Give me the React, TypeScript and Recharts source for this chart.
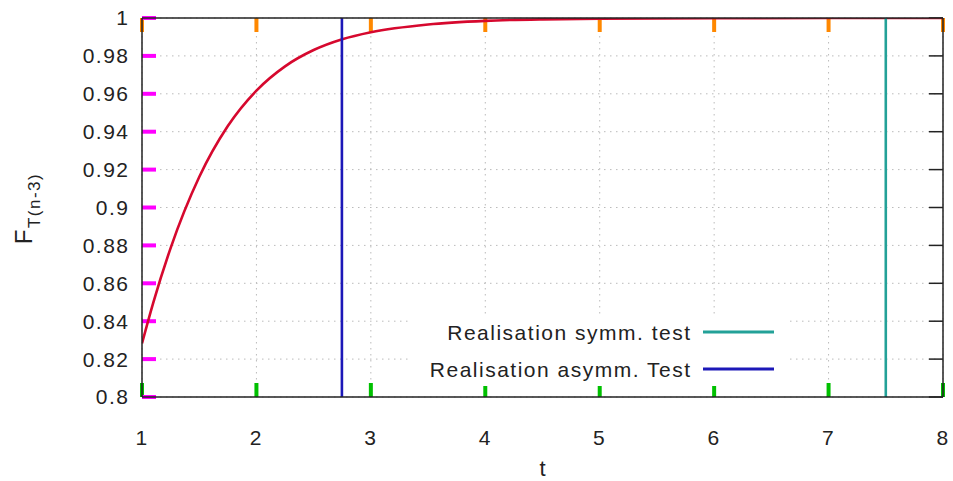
import React from "react";
import { LineChart, Line, XAxis, YAxis, CartesianGrid, Legend, ReferenceLine } from "recharts";

// CDF of the t distribution
const tValues = [1, 1.1, 1.25, 1.5, 1.75, 2, 2.25, 2.5, 2.75, 3, 3.5, 4, 4.5, 5, 6, 7, 8];
const fValues = [
  0.8283, 0.8501, 0.8786, 0.9161, 0.943, 0.9617, 0.9745, 0.9831, 0.9888, 0.9925, 0.9966,
  0.9985, 0.9993, 0.9996, 0.9999, 1.0, 1.0,
];

// realisations of the test statistic (vertical lines)
const symmTestT = 7.5;
const asymmTestT = 2.747;
const fRange = [0.8, 1];

const xTicks = [1, 2, 3, 4, 5, 6, 7, 8];
const yTicks = [0.8, 0.82, 0.84, 0.86, 0.88, 0.9, 0.92, 0.94, 0.96, 0.98, 1];

const legendOrder = ["Realisation symm. test", "Realisation asymm. Test"];

const cdfData = tValues.map((t, i) => ({ t, F: fValues[i] }));
const symmLine = fRange.map((F) => ({ t: symmTestT, F }));
const asymmLine = fRange.map((F) => ({ t: asymmTestT, F }));

const FONT = "'Liberation Sans', Arial, sans-serif";
const INK = "#222";
const RED = "#d6082e";
const BLUE = "#1c18b8";
const TEAL = "#23a198";
const SPACING = 1.5;
const X_GAP = 33;
const Y_GAP = 12.5;

const W = 953;
const H = 481;
const margin = { top: 0, right: 0, bottom: 10, left: 12 };
const Y_AXIS_W = 130;
const RIGHT_AXIS_W = 10;
const X_AXIS_H = 74;
const TOP_AXIS_H = 18;
const plotW = W - margin.left - margin.right - Y_AXIS_W - RIGHT_AXIS_W;
const plotH = H - margin.top - margin.bottom - X_AXIS_H - TOP_AXIS_H;

const TICK_LEN = 14;
const [tMin, tMax] = [xTicks[0], xTicks[xTicks.length - 1]];
const [fMin, fMax] = [yTicks[0], yTicks[yTicks.length - 1]];
const dt = (TICK_LEN * (tMax - tMin)) / plotW;
const dF = (TICK_LEN * (fMax - fMin)) / plotH;

const noTick = () => <g />;

const BottomTick = (props: any) => {
  const { x, y, payload } = props;
  return (
    <text x={x} y={y} dy="0.71em" textAnchor="middle" fontFamily={FONT} fontSize={21}
      letterSpacing={SPACING} fill={INK}>
      {payload.value}
    </text>
  );
};

const LeftTick = (props: any) => {
  const { x, y, payload } = props;
  return (
    <text x={x} y={y} dy="0.355em" textAnchor="end" fontFamily={FONT} fontSize={21}
      letterSpacing={SPACING} fill={INK}>
      {String(Number(Number(payload.value).toFixed(2)))}
    </text>
  );
};

const YLabel = (props: any) => {
  const { viewBox } = props;
  const x = viewBox.x + 20;
  const y = viewBox.y + viewBox.height / 2 + 1;
  return (
    <text x={x} y={y} transform={`rotate(-90, ${x}, ${y})`} textAnchor="middle" fontFamily={FONT}
      fontSize={24} letterSpacing={SPACING} fill={INK}>
      F
      <tspan fontSize={17} dy={8}>
        T(n-3)
      </tspan>
    </text>
  );
};

const XLabel = (props: any) => {
  const { viewBox } = props;
  return (
    <text x={viewBox.x + viewBox.width / 2} y={viewBox.y + 71} textAnchor="middle"
      dominantBaseline="central" fontFamily={FONT} fontSize={22} fill={INK}>
      t
    </text>
  );
};

const KeyBox = (props: any) => {
  const items = (props.payload || [])
    .filter((p: any) => legendOrder.includes(p.value))
    .sort((a: any, b: any) => legendOrder.indexOf(a.value) - legendOrder.indexOf(b.value));
  return (
    <div style={{ background: "#fff", width: 375, height: 70 }}>
      <svg width={375} height={70} style={{ display: "block" }}>
        {items.map((p: any, i: number) => (
          <g key={p.value}>
            <text x={279.5} y={16 + i * 37} textAnchor="end" dominantBaseline="central"
              fontFamily={FONT} fontSize={21} letterSpacing={SPACING} fill={INK}>
              {p.value}
            </text>
            <line x1={291} x2={362} y1={16 + i * 37} y2={16 + i * 37} stroke={p.color} strokeWidth={3} />
          </g>
        ))}
      </svg>
    </div>
  );
};

const frame = { stroke: INK, strokeWidth: 1.5 };

// test colours, to see which side's ticks get drawn
const bottomTicks = xTicks.map((t) => [{ x: t, y: fMin }, { x: t, y: fMin + dF }]);
const topTicks = xTicks.map((t) => [{ x: t, y: fMax }, { x: t, y: fMax - dF }]);
const leftTicks = yTicks.map((F) => [{ x: tMin, y: F }, { x: tMin + dt, y: F }]);
const rightTicks = yTicks.map((F) => [{ x: tMax, y: F }, { x: tMax - dt, y: F }]);

export default function App() {
  return (
    <LineChart width={W} height={H} data={cdfData} margin={margin}
      style={{ position: "absolute", left: 0, top: 0 }}>
      <CartesianGrid xAxisId="x" yAxisId="y" stroke="#bbb" strokeDasharray="1.5 4.5" />
      <XAxis xAxisId="x" dataKey="t" type="number" domain={[tMin, tMax]} ticks={xTicks} allowDataOverflow
        height={X_AXIS_H} tickLine={false} tickSize={0} tickMargin={X_GAP} axisLine={frame}
        tick={BottomTick} label={{ content: XLabel }} />
      <XAxis xAxisId="xt" orientation="top" dataKey="t" type="number" domain={[tMin, tMax]} ticks={xTicks}
        allowDataOverflow height={TOP_AXIS_H} tick={noTick} tickLine={false} tickSize={0} tickMargin={0} axisLine={frame} />
      <YAxis yAxisId="y" type="number" domain={[fMin, fMax]} ticks={yTicks} allowDataOverflow width={Y_AXIS_W}
        tickLine={false} tickSize={0} tickMargin={Y_GAP} axisLine={frame} tick={LeftTick}
        label={{ content: YLabel }} />
      <YAxis yAxisId="yr" orientation="right" type="number" domain={[fMin, fMax]} ticks={yTicks} allowDataOverflow
        width={RIGHT_AXIS_W} tick={noTick} tickLine={false} tickSize={0} tickMargin={0} axisLine={frame} />
      {bottomTicks.map((seg, i) => (
        <ReferenceLine key={"b" + i} xAxisId="x" yAxisId="y" segment={seg} stroke="#00c000" strokeWidth={4} ifOverflow="visible" />
      ))}
      {topTicks.map((seg, i) => (
        <ReferenceLine key={"t" + i} xAxisId="x" yAxisId="y" segment={seg} stroke="#ff8800" strokeWidth={4} ifOverflow="visible" />
      ))}
      {leftTicks.map((seg, i) => (
        <ReferenceLine key={"l" + i} xAxisId="x" yAxisId="y" segment={seg} stroke="#ff00ff" strokeWidth={4} ifOverflow="visible" />
      ))}
      {rightTicks.map((seg, i) => (
        <ReferenceLine key={"r" + i} xAxisId="x" yAxisId="y" segment={seg} stroke={INK} strokeWidth={1.5} ifOverflow="visible" />
      ))}
      <Legend layout="vertical" verticalAlign="middle" align="center" content={KeyBox}
        wrapperStyle={{ left: 412, top: 316, width: 375, height: 70 }} />
      <Line xAxisId="x" yAxisId="y" dataKey="F" type="monotone" stroke={RED} strokeWidth={2.6} dot={false}
        legendType="none" isAnimationActive={false} />
      <Line xAxisId="x" yAxisId="y" data={symmLine} dataKey="F" name="Realisation symm. test" stroke={TEAL}
        strokeWidth={2.6} dot={false} isAnimationActive={false} />
      <Line xAxisId="x" yAxisId="y" data={asymmLine} dataKey="F" name="Realisation asymm. Test" stroke={BLUE}
        strokeWidth={2.6} dot={false} isAnimationActive={false} />
    </LineChart>
  );
}
